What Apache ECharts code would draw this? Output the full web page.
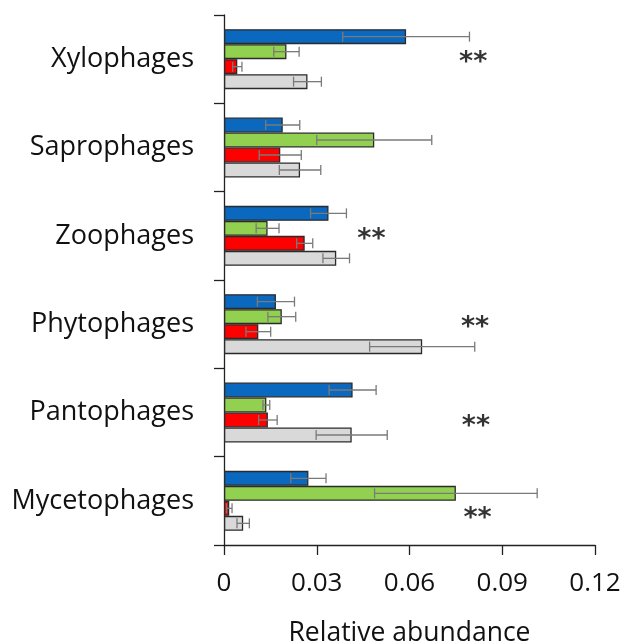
<!DOCTYPE html>
<html>
<head>
<meta charset="utf-8">
<script src="https://cdn.jsdelivr.net/npm/echarts@6/dist/echarts.min.js"></script>
<style>html,body{margin:0;padding:0;background:#fff;}#c{width:626px;height:641px;}</style>
</head>
<body>
<div id="c"></div>
<script>
const categories = ['Xylophages','Saprophages','Zoophages','Phytophages','Pantophages','Mycetophages'];
const blueMean  = [0.0589, 0.0190, 0.0338, 0.0168, 0.0416, 0.0273];
const blueErr   = [0.0205, 0.0055, 0.0058, 0.0060, 0.0076, 0.0057];
const greenMean = [0.0202, 0.0486, 0.0141, 0.0187, 0.0137, 0.0750];
const greenErr  = [0.0041, 0.0186, 0.0037, 0.0045, 0.0011, 0.0263];
const redMean   = [0.0043, 0.0182, 0.0261, 0.0111, 0.0142, 0.0017];
const redErr    = [0.0015, 0.0068, 0.0026, 0.0040, 0.0030, 0.0009];
const grayMean  = [0.0270, 0.0246, 0.0363, 0.0641, 0.0413, 0.0062];
const grayErr   = [0.0045, 0.0067, 0.0043, 0.0170, 0.0115, 0.0020];
const xTicks = [0, 0.03, 0.06, 0.09, 0.12];
// significance markers
const sigCategories = ['Xylophages','Zoophages','Phytophages','Pantophages','Mycetophages'];
const sigX = [0.0806, 0.0477, 0.0812, 0.0815, 0.0820];
const sigLabel = ['**','**','**','**','**'];

const groups = [
  {name:'blue', mean: blueMean, err: blueErr, color:'#0a68be'},
  {name:'green', mean: greenMean, err: greenErr, color:'#92d050'},
  {name:'red', mean: redMean, err: redErr, color:'#ff0000'},
  {name:'gray', mean: grayMean, err: grayErr, color:'#d9d9d9'}
];
const sigOffsets = [0, 0, 0, 10, 14];

const BW = 15;
const series = [];
groups.forEach((g, k) => {
  series.push({
    type:'bar', name:g.name, data:g.mean, barWidth:BW, barGap:'0%', barCategoryGap:'32%',
    itemStyle:{color:g.color, borderColor:'#2b2b2b', borderWidth:1.3},
    silent:true, z:2
  });
});
groups.forEach((g, k) => {
  series.push({
    type:'custom', name:g.name+'Err', z:5, silent:true,
    data: g.mean.map((m,i)=>[m, g.err[i], i]),
    encode:{x:[0], y:2},
    renderItem: function(params, api){
      const m = api.value(0), e = api.value(1), ci = api.value(2);
      const pL = api.coord([m - e, ci]);
      const pR = api.coord([m + e, ci]);
      const y = pL[1] + (-1.5 + k) * BW;
      const h = 5;
      const st = {stroke:'#7a7a7a', lineWidth:1.3};
      return {type:'group', children:[
        {type:'line', shape:{x1:pL[0], y1:y, x2:pR[0], y2:y}, style:st},
        {type:'line', shape:{x1:pL[0], y1:y-h, x2:pL[0], y2:y+h}, style:st},
        {type:'line', shape:{x1:pR[0], y1:y-h, x2:pR[0], y2:y+h}, style:st}
      ]};
    }
  });
});
series.push({
  type:'scatter', symbolSize:0, z:6, silent:true,
  data: sigCategories.map((c,i)=>({value:[sigX[i], c], label:{offset:[0, sigOffsets[i]+4]}})),
  label:{show:true, position:'inside', formatter:(p)=>sigLabel[p.dataIndex], fontSize:27, fontWeight:'bold', color:'#000', fontFamily:'DejaVu Sans'}
});

const chart = echarts.init(document.getElementById('c'), null, {renderer:'canvas'});
chart.setOption({
  animation:false,
  backgroundColor:'#fff',
  grid:{left:224, right:31, top:15, bottom:96, containLabel:false, outerBoundsMode:'none'},
  xAxis:{
    type:'value', min:0, max:0.12, interval:0.03,
    axisLine:{show:true, lineStyle:{color:'#222', width:1.3}},
    axisTick:{show:true, inside:false, length:10, lineStyle:{color:'#222', width:1.3}},
    splitLine:{show:false},
    axisLabel:{fontFamily:'Open Sans', fontSize:26, color:'#111', margin:26,
      formatter:(v)=> { const t = xTicks.find(x=>Math.abs(x-v)<1e-9); return t===0?'0':String(t); }},
    name:'Relative abundance', nameLocation:'middle', nameGap:75,
    nameTextStyle:{fontFamily:'Open Sans', fontSize:26.5, color:'#111'}
  },
  yAxis:{
    type:'category', data:categories, inverse:true,
    axisLine:{show:true, lineStyle:{color:'#222', width:1.3}},
    axisTick:{show:true, inside:false, length:10, alignWithLabel:false, lineStyle:{color:'#222', width:1.3}},
    axisLabel:{fontFamily:'Open Sans', fontSize:27, color:'#111', margin:30}
  },
  series: series
});
</script>
</body>
</html>
